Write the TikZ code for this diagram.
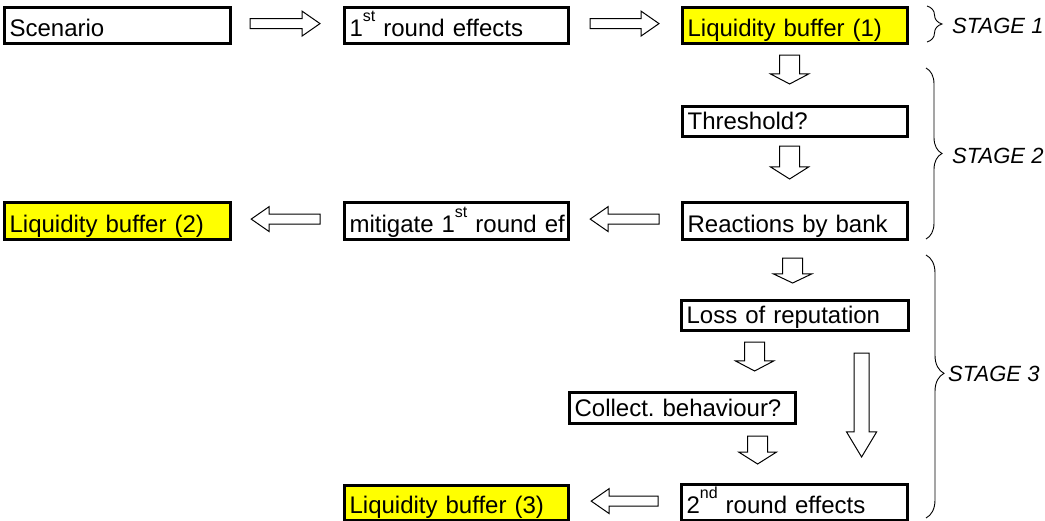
\documentclass[tikz,border=0pt]{standalone}
\usepackage{fontspec}
\setmainfont{Liberation Sans}
\usetikzlibrary{calc,decorations.pathreplacing}
\definecolor{hl}{RGB}{255,255,0}
\newcommand\supx[1]{\raisebox{15pt}{\fontsize{16}{16}\selectfont #1}}
\begin{document}
\begin{tikzpicture}[x=1pt,y=-1pt,
  bx/.style={draw, line width=3.2pt, inner xsep=5pt, inner ysep=0pt, align=left,
    text depth=7pt, anchor=north west, font=\fontsize{24}{28}\selectfont\frenchspacing},
  hlb/.style={bx, fill=hl},
  arr/.style={draw, fill=white, line width=1pt, line join=miter},
  rblk/.style={arr, to path={let \p1=(\tikztostart),\p2=(\tikztotarget) in
    (\x1,\y1+5pt) -- (\x2-18pt,\y1+5pt) -- (\x2-18pt,\y1+12.5pt) -- (\x2,\y1)
    -- (\x2-18pt,\y1-12.5pt) -- (\x2-18pt,\y1-5pt) -- (\x1,\y1-5pt) -- cycle}},
  lblk/.style={arr, to path={let \p1=(\tikztostart),\p2=(\tikztotarget) in
    (\x1,\y1+5pt) -- (\x2+18pt,\y1+5pt) -- (\x2+18pt,\y1+12.5pt) -- (\x2,\y1)
    -- (\x2+18pt,\y1-12.5pt) -- (\x2+18pt,\y1-5pt) -- (\x1,\y1-5pt) -- cycle}},
  dblk/.style n args={3}{arr, to path={let \p1=(\tikztostart),\p2=(\tikztotarget) in
    (\x1-#1,\y1) -- (\x1-#1,\y2+#3) -- (\x1-#2,\y2+#3) -- (\x1,\y2)
    -- (\x1+#2,\y2+#3) -- (\x1+#1,\y2+#3) -- (\x1+#1,\y1) -- cycle}},
  brc/.style n args={2}{decorate, decoration={brace, amplitude=#1, aspect=#2}, line width=0.9pt},
  stg/.style={anchor=west, inner sep=0pt, font=\fontsize{22}{26}\selectfont\itshape},
]
\useasboundingbox (0,0) rectangle (1045,521);

% boxes
\node[bx,  text width=216pt, text height=29pt] (scen) at (3,6) {\mbox{Scenario}};
\node[bx,  text width=214pt, text height=29pt] (r1)   at (343,6) {\mbox{1\supx{st} round effects}};
\node[hlb, text width=215pt, text height=29pt] (lb1)  at (681,6) {\mbox{Liquidity buffer (1)}};
\node[bx,  text width=215pt, text height=23pt] (thr)  at (681,105) {\mbox{Threshold?}};
\node[bx,  text width=215pt, text height=30pt] (rea)  at (681,201) {\mbox{Reactions by bank}};
\node[bx,  text width=214pt, text height=30pt] (mit)  at (343,201) {\mbox{mitigate 1\supx{st} round ef}};
\node[hlb, text width=216pt, text height=30pt] (lb2)  at (3,201) {\mbox{Liquidity buffer (2)}};
\node[bx,  text width=217pt, text height=23pt] (loss) at (680,299) {\mbox{Loss of reputation}};
\node[bx,  text width=216pt, text height=24pt] (col)  at (568,391) {\mbox{Collect. behaviour?}};
\node[bx,  text width=216pt, text height=29pt] (r2)   at (680,483) {\mbox{2\supx{nd} round effects}};
\node[hlb, text width=214pt, text height=28pt] (lb3)  at (343,484) {\mbox{Liquidity buffer (3)}};

% block arrows
\coordinate (h1a) at ($(scen.east)+(18,-2)$);
\coordinate (h1b) at ($(r1.west)+(-23,-2)$);
\draw[rblk] (h1a) to (h1b);
\coordinate (h2a) at ($(r1.east)+(20,-2)$);
\coordinate (h2b) at ($(lb1.west)+(-22,-2)$);
\draw[rblk] (h2a) to (h2b);

\coordinate (v1a) at ($(lb1.south)+(-5.5,10)$);
\coordinate (v1b) at ($(thr.north)+(-5.5,-21)$);
\draw[dblk={10pt}{19pt}{10pt}] (v1a) to (v1b);
\coordinate (v2a) at ($(thr.south)+(-5.5,8)$);
\coordinate (v2b) at ($(rea.north)+(-5.5,-22)$);
\draw[dblk={10pt}{19pt}{12pt}] (v2a) to (v2b);

\coordinate (h3a) at ($(rea.west)+(-22,-2)$);
\coordinate (h3b) at ($(mit.east)+(20,-2)$);
\draw[lblk] (h3a) to (h3b);
\coordinate (h4a) at ($(mit.west)+(-23,-2)$);
\coordinate (h4b) at ($(lb2.east)+(19,-2)$);
\draw[lblk] (h4a) to (h4b);

\coordinate (v3a) at ($(rea.south)+(-2.5,17)$);
\coordinate (v3b) at ($(loss.north)+(-2.5,-16)$);
\draw[dblk={10pt}{19pt}{9pt}] (v3a) to (v3b);
\coordinate (v4a) at ($(loss.south)+(-40.5,10)$);
\coordinate (v4b) at ($(col.north)+(72,-20)$);
\draw[dblk={10pt}{19pt}{10pt}] (v4a) to (v4b);
\coordinate (v5a) at ($(col.south)+(75,11)$);
\coordinate (v5b) at ($(r2.north)+(-37.5,-19)$);
\draw[dblk={10pt}{19pt}{12pt}] (v5a) to (v5b);
\coordinate (bga) at ($(loss.south)+(66.5,21)$);
\coordinate (bgb) at ($(r2.north)+(67,-26)$);
\draw[dblk={7.5pt}{15pt}{25pt}] (bga) to (bgb);

\coordinate (h5a) at ($(r2.west)+(-22,-1.5)$);
\coordinate (h5b) at ($(lb3.east)+(21,-1.5)$);
\draw[lblk] (h5a) to (h5b);

% braces and stage labels
\draw[brc={15pt}{0.5}] (927,6) -- (927,42);
\node[stg] (s1) at (952,26) {STAGE 1};
\draw[brc={16pt}{0.5}] (926,68) -- (926,239);
\node[stg] (s2) at (952,156) {STAGE 2};
\draw[brc={18pt}{0.45}] (926,255) -- (926,518);
\node[stg] (s3) at (948,374) {STAGE 3};
\end{tikzpicture}
\end{document}
